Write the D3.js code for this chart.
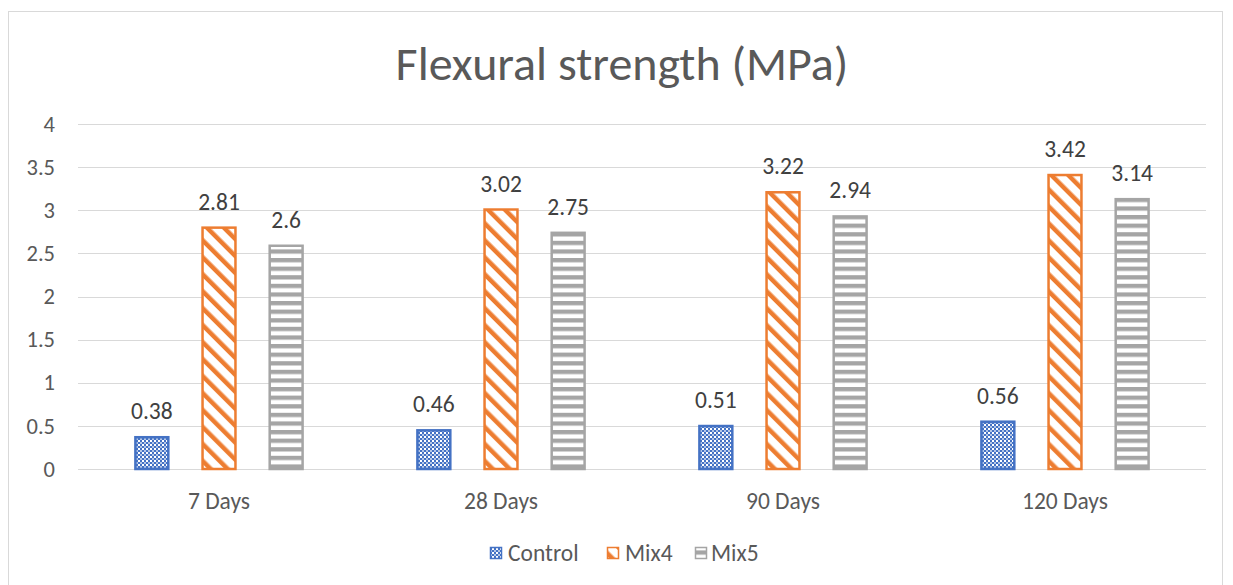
<!DOCTYPE html>
<html>
<head>
<meta charset="utf-8">
<script src="https://cdn.jsdelivr.net/npm/d3@7"></script>
<style>
  html, body { margin: 0; padding: 0; background: #fff; }
  svg { display: block; font-family: Carlito, Calibri, Lato, "Open Sans", sans-serif; }
</style>
</head>
<body>
<svg id="chart" width="1233" height="585"></svg>
<script>
// Chart data
const categories = ["7 Days", "28 Days", "90 Days", "120 Days"];
const seriesNames = ["Control", "Mix4", "Mix5"];
const control = [0.38, 0.46, 0.51, 0.56];
const mix4 = [2.81, 3.02, 3.22, 3.42];
const mix5 = [2.6, 2.75, 2.94, 3.14];
const yTicks = [0, 0.5, 1, 1.5, 2, 2.5, 3, 3.5, 4];

const seriesValues = [control, mix4, mix5];
const colors = ["#4472C4", "#ED7D31", "#A5A5A5"];
const fills = ["url(#pat-control)", "url(#pat-mix4)", "url(#pat-mix5)"];
const FONT = "Carlito, Calibri, Lato, 'Open Sans', sans-serif";

const svg = d3.select("#chart");

// Outer chart frame
svg.append("rect")
  .attr("x", 8.5).attr("y", 11.5).attr("width", 1214).attr("height", 600)
  .attr("fill", "#fff").attr("stroke", "#D9D9D9").attr("stroke-width", 1);

// Patterns
const defs = svg.append("defs");
// Control: blue with a fine white dot grid
const pc = defs.append("pattern").attr("id", "pat-control")
  .attr("patternUnits", "userSpaceOnUse").attr("width", 4).attr("height", 4);
pc.append("rect").attr("width", 4).attr("height", 4).attr("fill", "#4472C4");
pc.append("rect").attr("x", 0).attr("y", 0).attr("width", 2).attr("height", 2).attr("fill", "#fff");
pc.append("rect").attr("x", 2).attr("y", 2).attr("width", 2).attr("height", 2).attr("fill", "#B4C7E7");

// Mix4: wide downward diagonal stripes
const pm4 = defs.append("pattern").attr("id", "pat-mix4")
  .attr("patternUnits", "userSpaceOnUse").attr("width", 12).attr("height", 12)
  .attr("patternTransform", "rotate(-45)");
pm4.append("rect").attr("width", 12).attr("height", 12).attr("fill", "#fff");
pm4.append("rect").attr("x", 0).attr("y", 0).attr("width", 4.5).attr("height", 12).attr("fill", "#ED7D31");

// Mix5: horizontal stripes
const pm5 = defs.append("pattern").attr("id", "pat-mix5")
  .attr("patternUnits", "userSpaceOnUse").attr("width", 8).attr("height", 8.6);
pm5.append("rect").attr("width", 8).attr("height", 8.6).attr("fill", "#fff");
pm5.append("rect").attr("x", 0).attr("y", 0).attr("width", 8).attr("height", 4.3).attr("fill", "#A5A5A5");

// Layout
const plot = { left: 78, right: 1206, top: 124, bottom: 469 };

const x = d3.scaleBand().domain(categories).range([plot.left, plot.right]);
const y = d3.scaleLinear().domain([0, 4]).range([plot.bottom, plot.top]);
const xs = d3.scaleBand().domain(seriesNames).range([0, x.bandwidth()])
  .paddingInner(0.48).paddingOuter(0.84);

// Title
svg.append("text")
  .attr("x", 622).attr("y", 80)
  .attr("text-anchor", "middle")
  .attr("font-size", 48)
  .attr("fill", "#595959")
  .text("Flexural strength (MPa)");

// Gridlines
svg.append("g").selectAll("line").data(yTicks).join("line")
  .attr("x1", plot.left).attr("x2", plot.right)
  .attr("y1", d => Math.round(y(d)) + 0.5).attr("y2", d => Math.round(y(d)) + 0.5)
  .attr("stroke", "#D9D9D9").attr("stroke-width", 1);

// Y axis labels
const yAxis = d3.axisLeft(y).tickValues(yTicks).tickSize(0).tickPadding(0).tickFormat(d3.format("~g"));
const yg = svg.append("g").attr("transform", `translate(${plot.left - 23},0)`).call(yAxis);
yg.select(".domain").remove();
yg.selectAll("text").attr("font-size", 22.5).attr("fill", "#595959").attr("font-family", FONT);

// X axis labels
const xAxis = d3.axisBottom(x).tickSize(0).tickPadding(0);
const xg = svg.append("g").attr("transform", `translate(0,${plot.bottom + 23})`).call(xAxis);
xg.select(".domain").remove();
xg.selectAll("text").attr("font-size", 23.5).attr("fill", "#595959").attr("font-family", FONT);

// Bars with value labels
const groups = svg.append("g").selectAll("g").data(categories).join("g")
  .attr("transform", d => `translate(${x(d)},0)`);

groups.each(function(cat, ci) {
  const g = d3.select(this);
  seriesNames.forEach((s, si) => {
    const v = seriesValues[si][ci];
    g.append("rect")
      .attr("x", xs(s) + 1).attr("y", y(v) + 1)
      .attr("width", xs.bandwidth() - 2).attr("height", y(0) - y(v) - 1)
      .attr("fill", fills[si])
      .attr("stroke", colors[si]).attr("stroke-width", 2.5);
    g.append("text")
      .attr("x", xs(s) + xs.bandwidth() / 2).attr("y", y(v) - 17)
      .attr("text-anchor", "middle")
      .attr("font-size", 23.5).attr("fill", "#404040")
      .text(v);
  });
});

// Legend
const legendItems = [
  { name: "Control", sx: 490, tx: 508 },
  { name: "Mix4", sx: 607, tx: 625 },
  { name: "Mix5", sx: 695, tx: 711 }
];
const lg = svg.append("g");
legendItems.forEach((it, i) => {
  lg.append("rect")
    .attr("x", it.sx + 0.5).attr("y", 547.5).attr("width", 11).attr("height", 11)
    .attr("fill", fills[i]).attr("stroke", colors[i]).attr("stroke-width", 1.5);
  lg.append("text")
    .attr("x", it.tx).attr("y", 561)
    .attr("font-size", 23.5).attr("fill", "#595959")
    .text(it.name);
});
</script>
</body>
</html>
